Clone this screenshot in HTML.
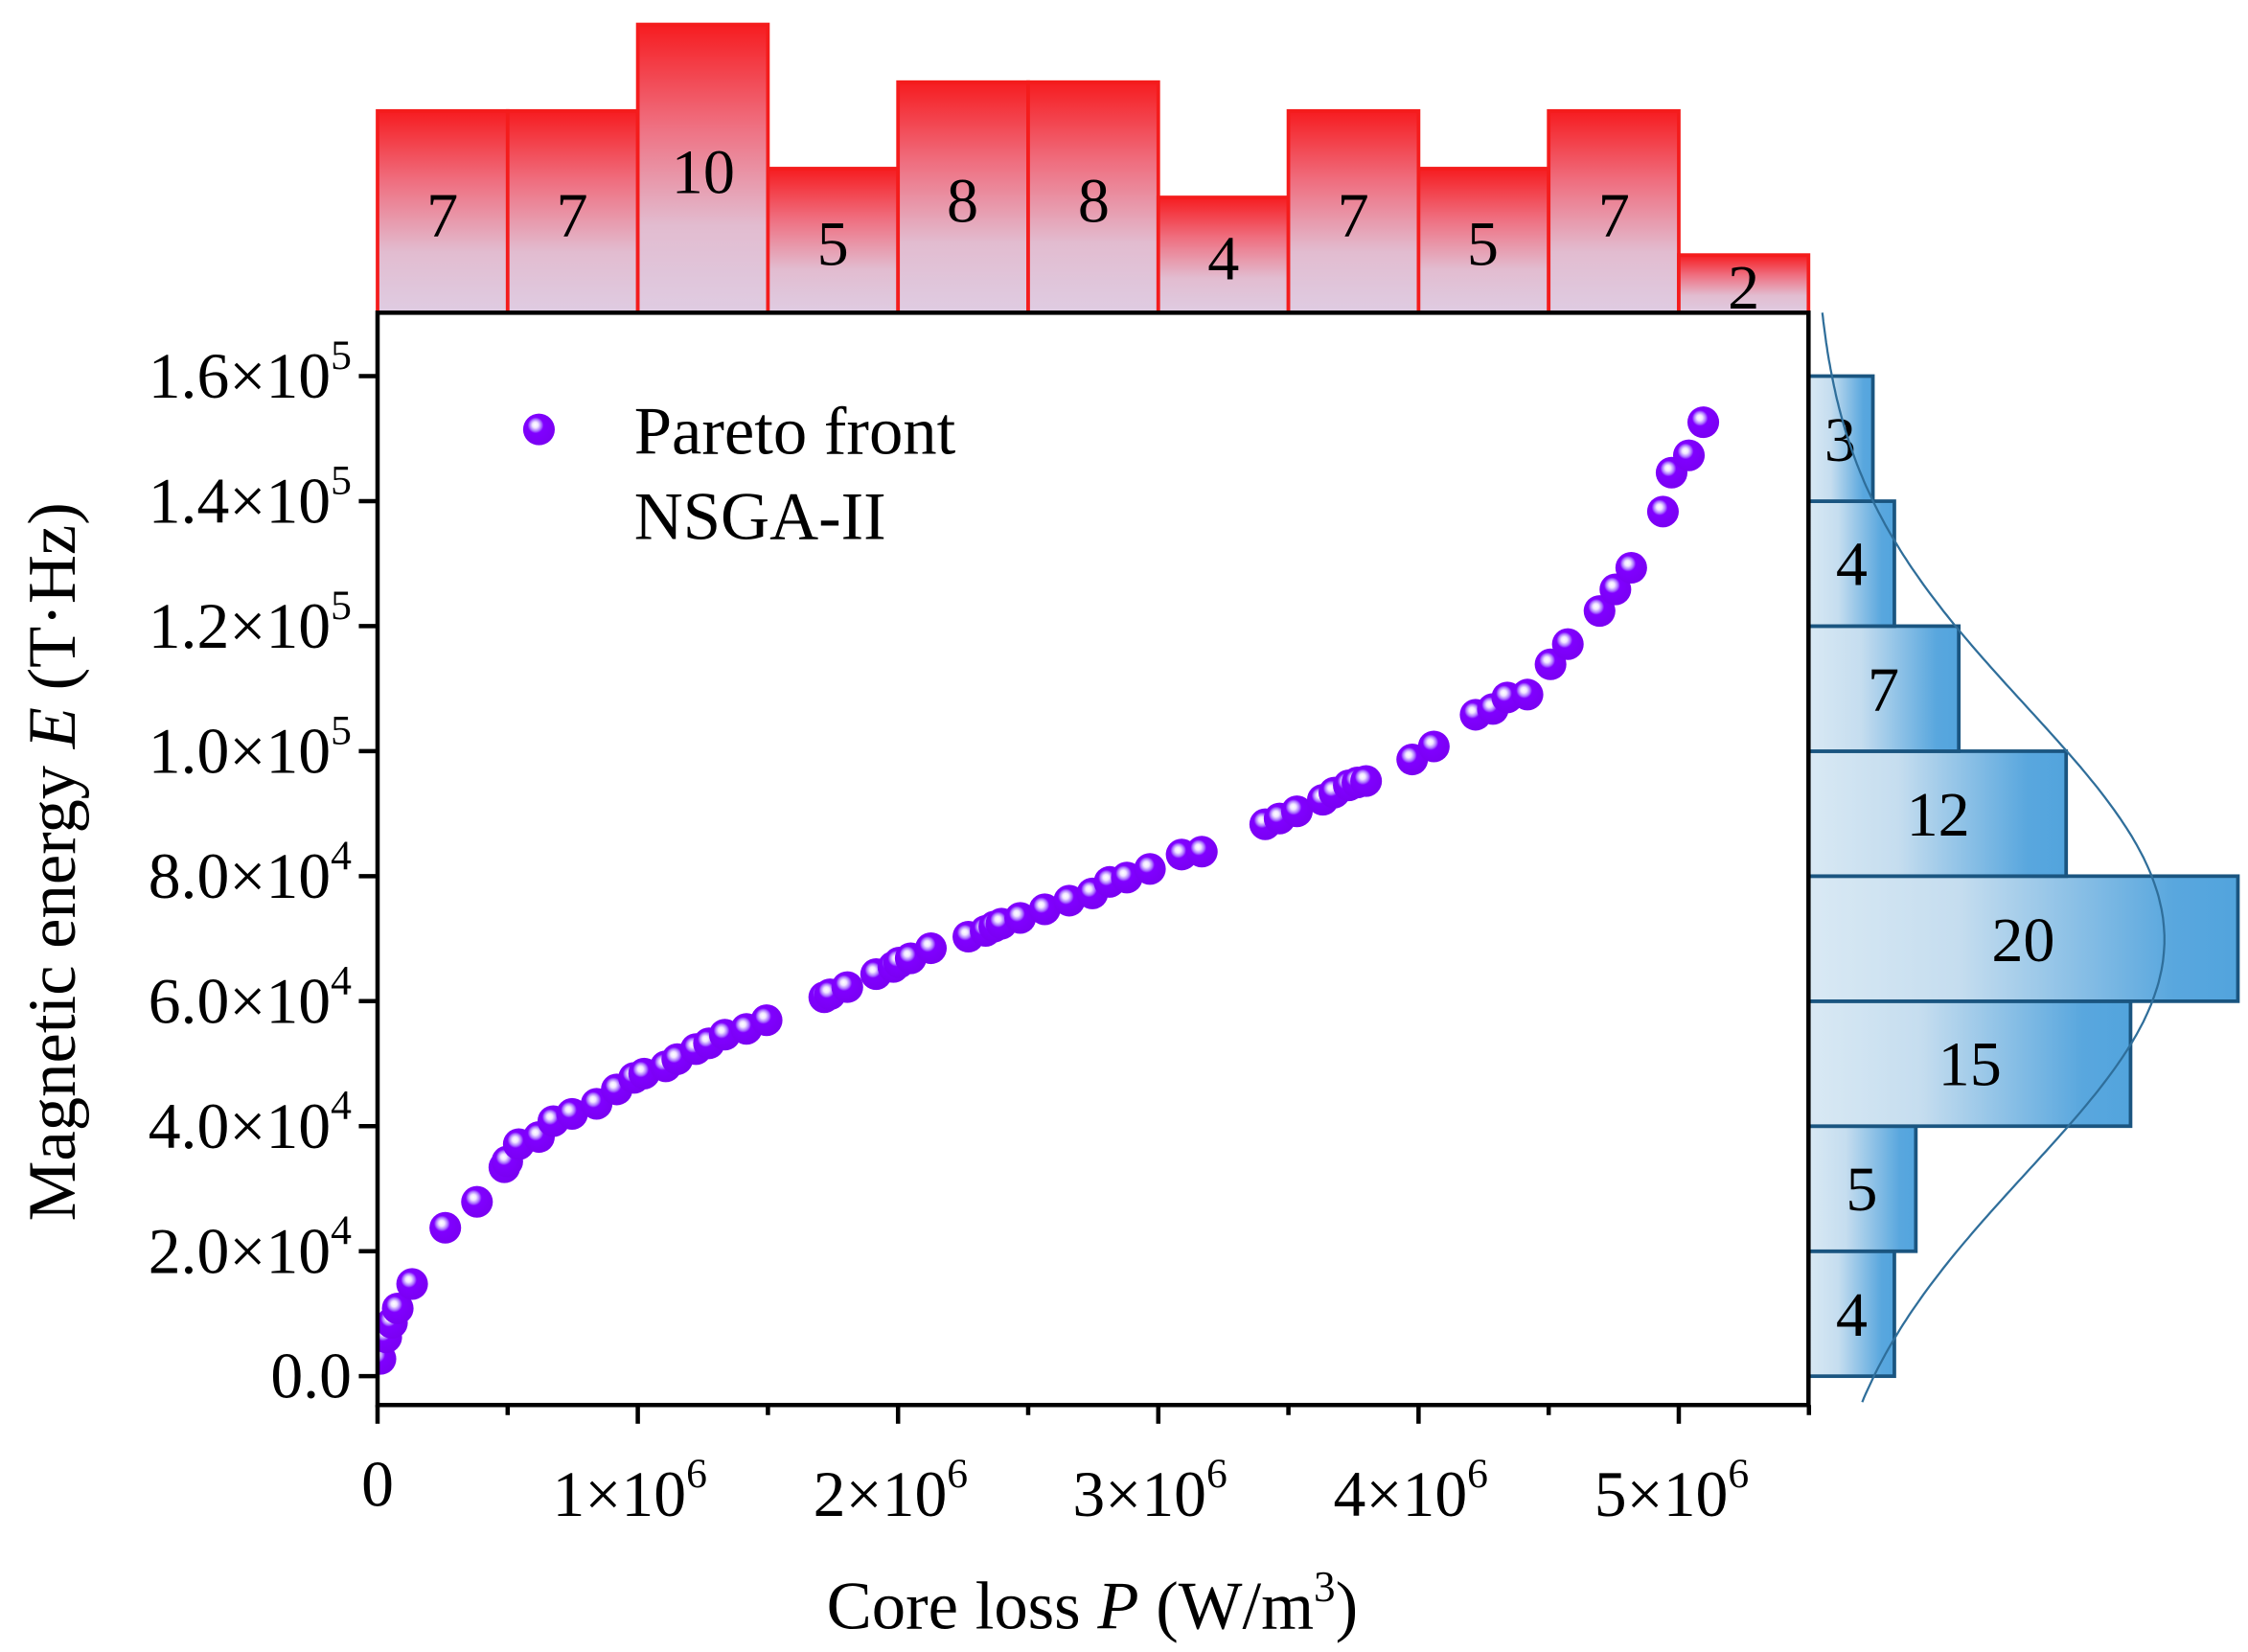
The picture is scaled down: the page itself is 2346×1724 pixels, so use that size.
<!DOCTYPE html>
<html><head><meta charset="utf-8"><style>
html,body{margin:0;padding:0;background:#fff;}
svg{display:block;}
text{font-family:"Liberation Serif","DejaVu Serif",serif;fill:#000;}
</style></head><body>
<svg width="2346" height="1724" viewBox="0 0 1560 1146.4" preserveAspectRatio="none" xmlns="http://www.w3.org/2000/svg">
<defs>
<linearGradient id="rg" x1="0" y1="0" x2="0" y2="1">
<stop offset="0" stop-color="#f61c20"/><stop offset="0.35" stop-color="#ef6f80"/><stop offset="0.7" stop-color="#e2bcd0"/><stop offset="1" stop-color="#dfcce2"/>
</linearGradient>
<linearGradient id="bg" x1="0" y1="0" x2="1" y2="0">
<stop offset="0" stop-color="#d9e9f4"/><stop offset="0.35" stop-color="#c5ddef"/><stop offset="0.85" stop-color="#59a7de"/><stop offset="1" stop-color="#52a4dd"/>
</linearGradient>
<radialGradient id="sp" cx="0.42" cy="0.4" r="0.6" fx="0.38" fy="0.35">
<stop offset="0" stop-color="#ffffff"/><stop offset="0.15" stop-color="#f0e6ff"/><stop offset="0.3" stop-color="#b07cff"/><stop offset="0.42" stop-color="#8000ff"/><stop offset="1" stop-color="#7a00f2"/>
</radialGradient>
<clipPath id="pc"><rect x="262" y="217" width="993" height="758"/></clipPath>
</defs>

<g stroke="#f41c1c" stroke-width="2.5" fill="url(#rg)">
<rect x="262" y="77" width="90.3" height="140"/>
<rect x="352.3" y="77" width="90.3" height="140"/>
<rect x="442.6" y="17" width="90.3" height="200"/>
<rect x="532.9" y="117" width="90.3" height="100"/>
<rect x="623.2" y="57" width="90.3" height="160"/>
<rect x="713.5" y="57" width="90.3" height="160"/>
<rect x="803.8" y="137" width="90.3" height="80"/>
<rect x="894.1" y="77" width="90.3" height="140"/>
<rect x="984.4" y="117" width="90.3" height="100"/>
<rect x="1074.7" y="77" width="90.3" height="140"/>
<rect x="1165" y="177" width="90" height="40"/>
</g>
<g font-size="44" text-anchor="middle">
<text x="307" y="164">7</text><text x="397" y="164">7</text><text x="488" y="134">10</text>
<text x="578" y="184">5</text><text x="668" y="154">8</text><text x="759" y="154">8</text>
<text x="849" y="194">4</text><text x="939" y="164">7</text><text x="1029" y="184">5</text>
<text x="1120" y="164">7</text><text x="1210" y="214">2</text>
</g>

<g stroke="#1a5580" stroke-width="2.5" fill="url(#bg)">
<rect x="1255" y="868.3" width="59.6" height="86.7"/>
<rect x="1255" y="781.5" width="74.5" height="86.8"/>
<rect x="1255" y="694.8" width="223.5" height="86.7"/>
<rect x="1255" y="608" width="298" height="86.8"/>
<rect x="1255" y="521.3" width="178.8" height="86.7"/>
<rect x="1255" y="434.5" width="104.3" height="86.8"/>
<rect x="1255" y="347.8" width="59.6" height="86.7"/>
<rect x="1255" y="261" width="44.7" height="86.8"/>
</g>
<g font-size="44" text-anchor="middle">
<text x="1285" y="927">4</text><text x="1292" y="840">5</text><text x="1367" y="753">15</text>
<text x="1404" y="667">20</text><text x="1345" y="580">12</text><text x="1307" y="493">7</text>
<text x="1285" y="406">4</text><text x="1277" y="320">3</text>
</g>
<path id="curve" fill="none" stroke="#2f6e9a" stroke-width="1.5" d=""/>

<rect x="262" y="217" width="993" height="758" fill="#fff" stroke="none"/>
<g clip-path="url(#pc)" id="pts"></g>
<rect x="262" y="217" width="993" height="758" fill="none" stroke="#000" stroke-width="3"/>

<g stroke="#000" stroke-width="3" id="yt"></g>
<g font-size="45" text-anchor="end" id="yl"></g>
<g stroke="#000" stroke-width="3" id="xt"></g>
<g font-size="45" text-anchor="middle">
<text x="262" y="1045">0</text>
<text x="437" y="1052">1×10<tspan font-size="29" dy="-20">6</tspan></text>
<text x="618" y="1052">2×10<tspan font-size="29" dy="-20">6</tspan></text>
<text x="798" y="1052">3×10<tspan font-size="29" dy="-20">6</tspan></text>
<text x="979" y="1052">4×10<tspan font-size="29" dy="-20">6</tspan></text>
<text x="1160" y="1052">5×10<tspan font-size="29" dy="-20">6</tspan></text>
</g>
<text x="758" y="1130" font-size="47" text-anchor="middle">Core loss <tspan font-style="italic">P</tspan> (W/m<tspan font-size="30" dy="-19">3</tspan><tspan dy="19">)</tspan></text>
<text transform="translate(52,598) rotate(-90)" font-size="47" text-anchor="middle">Magnetic energy <tspan font-style="italic">E</tspan> (T·Hz)</text>

<circle cx="374" cy="298" r="11" fill="url(#sp)"/>
<text x="440" y="315" font-size="47">Pareto front</text>
<text x="440" y="374" font-size="47">NSGA-II</text>

<script>
var ns="http://www.w3.org/2000/svg";
function el(p,t,a){var e=document.createElementNS(ns,t);for(var k in a)e.setAttribute(k,a[k]);p.appendChild(e);return e;}
var pts=[[264,943],[268,928],[272,918],[276,908],[286,891],[309,852],[331,834],[350,810],[352,806],[360,794],[374,789],[384,778],[397,773],[414,766],[428,756],[440,748],[447,745],[462,740],[470,735],[483,728],[492,724],[503,718],[518,714],[532,708],[572,692],[576,690],[588,685],[608,676],[620,671],[624,668],[632,665],[646,658],[672,650],[684,646],[690,643],[695,641],[708,637],[725,631],[742,625],[758,620],[770,612],[782,609],[798,603],[820,593],[834,591],[878,572],[888,568],[900,563],[918,555],[926,550],[936,545],[942,543],[948,542],[980,527],[995,518],[1024,496],[1036,492],[1046,484],[1060,482],[1076,461],[1088,447],[1110,424],[1121,409],[1132,394],[1154,355],[1160,328],[1172,316],[1182,293]];
var g=document.getElementById('pts');
pts.forEach(function(p){el(g,'circle',{cx:p[0],cy:p[1],r:11,fill:'url(#sp)'});});
var yt=document.getElementById('yt'),yl=document.getElementById('yl');
for(var i=0;i<=8;i++){var y=955-i*86.75;el(yt,'line',{x1:249,y1:y,x2:262,y2:y});
var t=el(yl,'text',{x:244,y:y+15});
if(i==0){t.textContent='0.0';}else{var v=i*2;var m,e;if(v<10){m=v.toFixed(1);e=4;}else{m=(v/10).toFixed(1);e=5;}
t.textContent=m+'×10';var s=el(t,'tspan',{'font-size':29,dy:-20});s.textContent=e;}}
var xt=document.getElementById('xt');
for(var i=0;i<=11;i++){var x=262+i*90.3;var L=(i%2==0)?13:7;el(xt,'line',{x1:x,y1:975,x2:x,y2:975+L});}
var d='';for(var y=217;y<=975;y+=3){var z=(y-652)/162;var x=1258+244*Math.exp(-z*z/2);d+=(y==217?'M':'L')+x.toFixed(1)+','+y;}
document.getElementById('curve').setAttribute('d',d);
</script>
</svg>
</body></html>
